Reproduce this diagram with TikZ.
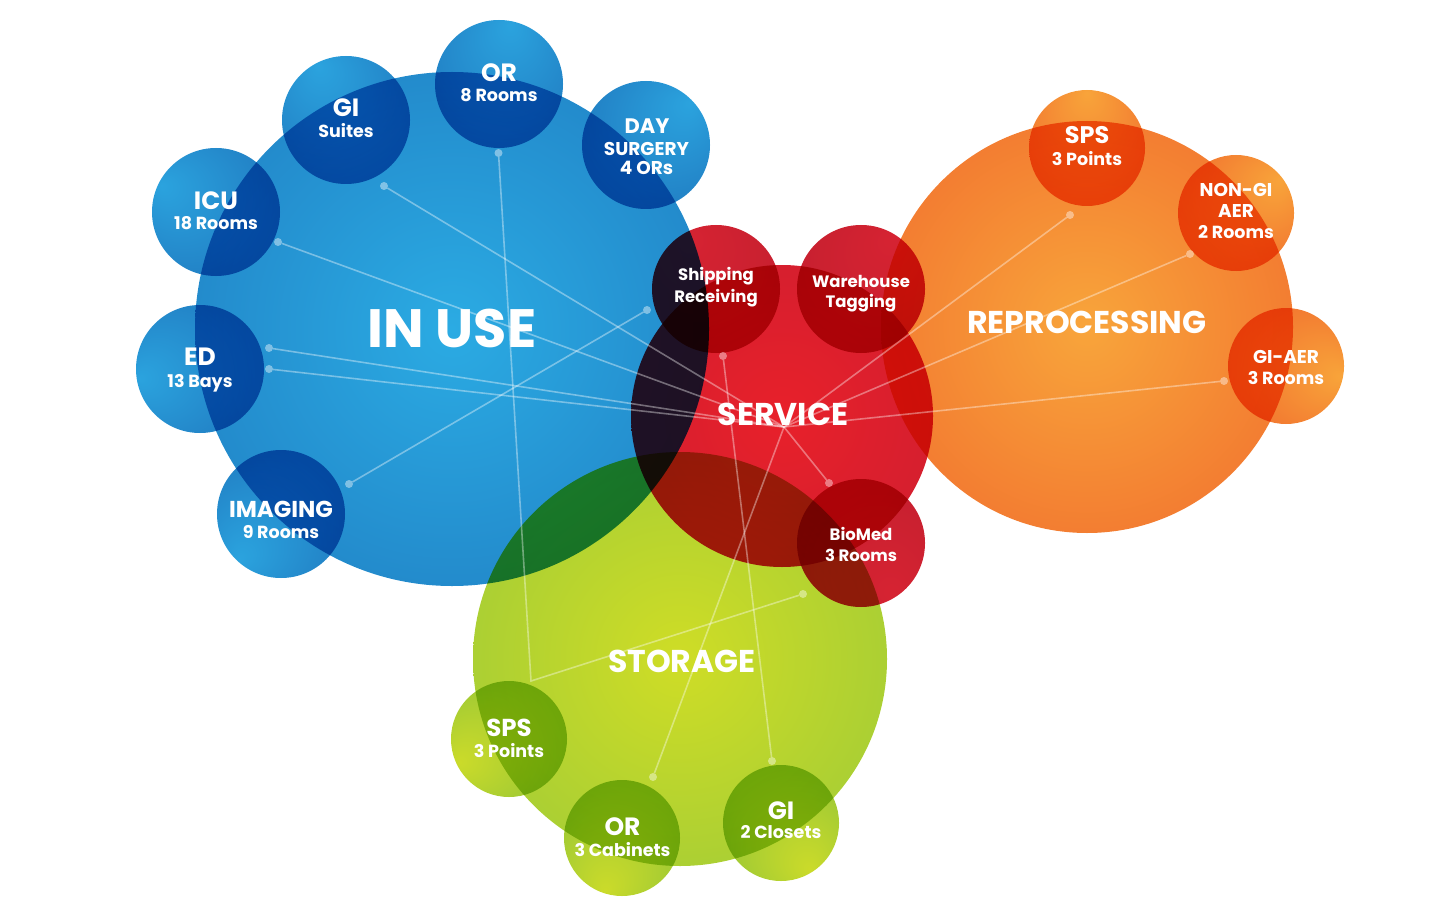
\documentclass[tikz,border=0pt]{standalone}
\usepackage{fontspec}
\setmainfont{Poppins}[UprightFont={* Bold}]

% palette: big balls (centre, rim) and satellite balls (spot, rim)
\definecolor{useC}{HTML}{2BABE3}
\definecolor{useE}{HTML}{1B6BB5}
\definecolor{satblueC}{HTML}{2BA3DE}
\definecolor{satblueE}{HTML}{1C6CB6}
\definecolor{svcC}{HTML}{E8202A}
\definecolor{svcE}{HTML}{C41E33}
\definecolor{satredC}{HTML}{D62332}
\definecolor{satredE}{HTML}{BE1E2E}
\definecolor{repC}{HTML}{F8A53B}
\definecolor{repE}{HTML}{EE5628}
\definecolor{satorC}{HTML}{F8A43A}
\definecolor{satorE}{HTML}{EE5A2A}
\definecolor{stoC}{HTML}{CFDD26}
\definecolor{stoE}{HTML}{88C240}
\definecolor{satgrC}{HTML}{CBDB2A}
\definecolor{satgrE}{HTML}{80BD3C}

\pgfdeclareradialshading{useball}{\pgfpoint{0bp}{0bp}}{color(0bp)=(useC); color(50bp)=(useE)}
\pgfdeclareradialshading{svcball}{\pgfpoint{0bp}{0bp}}{color(0bp)=(svcC); color(50bp)=(svcE)}
\pgfdeclareradialshading{repball}{\pgfpoint{0bp}{0bp}}{color(0bp)=(repC); color(50bp)=(repE)}
\pgfdeclareradialshading{stoball}{\pgfpoint{0bp}{0bp}}{color(0bp)=(stoC); color(50bp)=(stoE)}
% satellites: light spot pushed to one side, turned with shading angle
\pgfdeclareradialshading{satblue}{\pgfpoint{24bp}{0bp}}{color(0bp)=(satblueC); color(50bp)=(satblueE)}
\pgfdeclareradialshading{satred}{\pgfpoint{24bp}{0bp}}{color(0bp)=(satredC); color(50bp)=(satredE)}
\pgfdeclareradialshading{sator}{\pgfpoint{24bp}{0bp}}{color(0bp)=(satorC); color(50bp)=(satorE)}
\pgfdeclareradialshading{satgr}{\pgfpoint{24bp}{0bp}}{color(0bp)=(satgrC); color(50bp)=(satgrE)}

\begin{document}
\begin{tikzpicture}[x=1pt,y=-1pt,
  ball/.style={circle, inner sep=0pt, outer sep=0pt, blend mode=multiply},
  sat/.style={ball, minimum size=128pt},
  satsm/.style={ball, minimum size=116pt},
  link/.style={draw=white, draw opacity=0.38, line width=1.6pt},
  dot/.style={circle, fill=white, fill opacity=0.42, minimum size=8pt, inner sep=0pt, outer sep=0pt},
  lbl/.style={text=white, anchor=base, inner sep=0pt, outer sep=0pt},
  huge/.style={lbl, font=\fontsize{54}{60}\selectfont},
  head/.style={lbl, font=\fontsize{31.5}{36}\selectfont},
  ttl/.style={lbl, font=\fontsize{25}{30}\selectfont},
  mid/.style={lbl, font=\fontsize{18.5}{23}\selectfont},
  sub/.style={lbl, font=\fontsize{17.5}{22}\selectfont},
  sml/.style={lbl, font=\fontsize{16.5}{21}\selectfont}]

\useasboundingbox (0,0) rectangle (1455,909);

% ---- main groups ----
\node[ball, minimum size=514pt, shading=useball] (inuse) at (452,329) {};
\node[ball, minimum size=302pt, shading=svcball] (service) at (782,416) {};
\node[ball, minimum size=412pt, shading=repball] (reproc) at (1087,327) {};
\node[ball, minimum size=414pt, shading=stoball] (storage) at (680,659) {};

% ---- in use satellites ----
\node[sat, shading=satblue, shading angle=117] (c-gi) at (346,120) {};
\node[sat, shading=satblue, shading angle=79] (c-or) at (499,84) {};
\node[sat, shading=satblue, shading angle=44] (c-day) at (646,145) {};
\node[sat, shading=satblue, shading angle=154] (c-icu) at (216,212) {};
\node[sat, shading=satblue, shading angle=189] (c-ed) at (200,369) {};
\node[sat, shading=satblue, shading angle=227] (c-img) at (281,514) {};

% ---- service satellites ----
\node[sat, shading=satred, shading angle=118] (c-ship) at (716,289) {};
\node[sat, shading=satred, shading angle=58] (c-ware) at (861,289) {};
\node[sat, shading=satred, shading angle=-58] (c-bio) at (861,543) {};

% ---- reprocessing satellites ----
\node[satsm, shading=sator, shading angle=90] (c-rsps) at (1087,148) {};
\node[satsm, shading=sator, shading angle=37] (c-nongi) at (1236,213) {};
\node[satsm, shading=sator, shading angle=-11] (c-giaer) at (1286,366) {};

% ---- storage satellites ----
\node[satsm, shading=satgr, shading angle=205] (c-ssps) at (509,739) {};
\node[satsm, shading=satgr, shading angle=252] (c-orcab) at (622,838) {};
\node[satsm, shading=satgr, shading angle=-58] (c-gicl) at (781,823) {};

% ---- connector end points ----
\coordinate (hub) at (784,427);
\coordinate (bend) at (531,681);
\node[dot] (d-gi) at (384,186) {};
\node[dot] (d-or) at (498.5,153) {};
\node[dot] (d-icu) at (278,242) {};
\node[dot] (d-ed1) at (269,348) {};
\node[dot] (d-ed2) at (269,369) {};
\node[dot] (d-img) at (349,484) {};
\node[dot] (d-ship1) at (647,310) {};
\node[dot] (d-ship2) at (723,356) {};
\node[dot] (d-bio) at (829,483) {};
\node[dot] (d-rsps) at (1070,215) {};
\node[dot] (d-nongi) at (1190,254) {};
\node[dot] (d-giaer) at (1224,381) {};
\node[dot] (d-stor) at (803,594) {};
\node[dot] (d-orcab) at (653,777) {};
\node[dot] (d-gicl) at (772,761) {};

% ---- connectors ----
\draw[link] (hub) -- (d-gi);
\draw[link] (hub) -- (d-icu);
\draw[link] (hub) -- (d-ed1);
\draw[link] (hub) -- (d-ed2);
\draw[link] (hub) -- (d-bio);
\draw[link] (hub) -- (d-rsps);
\draw[link] (hub) -- (d-nongi);
\draw[link] (hub) -- (d-giaer);
\draw[link] (hub) -- (d-orcab);
\draw[link] (d-ship1) -- (d-img);
\draw[link] (d-ship2) -- (d-gicl);
\draw[link] (d-or) -- (bend) -- (d-stor);

% ---- group titles ----
\node[huge] (t-inuse) at (452,347) {IN USE};
\node[head] (t-service) at (783,425) {SERVICE};
\node[head] (t-reproc) at (1087,333) {REPROCESSING};
\node[head] (t-storage) at (682,672) {STORAGE};

% ---- satellite labels ----
\node[ttl] (t-gi1) at (346,117) {GI};
\node[sub] (t-gi2) at (346,138) {Suites};
\node[ttl] (t-or1) at (499,82) {OR};
\node[sub] (t-or2) at (499,102) {8 Rooms};
\node[lbl, font=\fontsize{21}{25}\selectfont] (t-day1) at (647,134) {DAY};
\node[mid] (t-day2) at (646.5,156) {SURGERY};
\node[mid] (t-day3) at (646.5,175) {4 ORs};
\node[ttl] (t-icu1) at (216,210) {ICU};
\node[sub] (t-icu2) at (216,230) {18 Rooms};
\node[ttl] (t-ed1) at (200,365) {ED};
\node[sub] (t-ed2) at (200,387) {13 Bays};
\node[lbl, font=\fontsize{23}{27}\selectfont] (t-img1) at (281,517) {IMAGING};
\node[sub] (t-img2) at (281,538) {9 Rooms};

\node[sml] (t-ship1) at (716,280) {Shipping};
\node[sml] (t-ship2) at (716,302) {Receiving};
\node[sml] (t-ware1) at (861,287) {Warehouse};
\node[sml] (t-ware2) at (861,307) {Tagging};
\node[sml] (t-bio1) at (861,540) {BioMed};
\node[sml] (t-bio2) at (861,561) {3 Rooms};

\node[lbl, font=\fontsize{24}{29}\selectfont] (t-rsps1) at (1087,144) {SPS};
\node[sub] (t-rsps2) at (1087,166) {3 Points};
\node[mid] (t-nongi1) at (1236,197) {NON-GI};
\node[mid] (t-nongi2) at (1236,218) {AER};
\node[sub] (t-nongi3) at (1236,239) {2 Rooms};
\node[mid] (t-giaer1) at (1286,363) {GI-AER};
\node[sub] (t-giaer2) at (1286,384) {3 Rooms};

\node[lbl, font=\fontsize{24.5}{29}\selectfont] (t-ssps1) at (509,736) {SPS};
\node[sub] (t-ssps2) at (509,757) {3 Points};
\node[ttl] (t-orcab1) at (622.5,835) {OR};
\node[sub] (t-orcab2) at (622.5,856) {3 Cabinets};
\node[ttl] (t-gicl1) at (781,819) {GI};
\node[sub] (t-gicl2) at (781,838) {2 Closets};
\end{tikzpicture}
\end{document}
